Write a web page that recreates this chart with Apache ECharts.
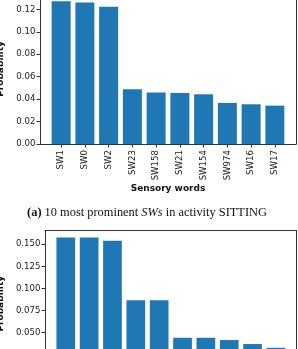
<!DOCTYPE html>
<html><head><meta charset="utf-8">
<script src="https://cdn.jsdelivr.net/npm/echarts@6/dist/echarts.min.js"></script>
<style>html,body{margin:0;padding:0;background:#fff}#c{width:298px;height:349px}</style>
</head><body><div id="c"></div>
<script>
// ---- data ----
const categoriesA = ['SW1','SW0','SW2','SW23','SW158','SW21','SW154','SW974','SW16','SW17'];
const valuesA = [0.1273,0.1260,0.1222,0.0488,0.0459,0.0455,0.0443,0.0366,0.0354,0.0342];
const yTicksA = [0,0.02,0.04,0.06,0.08,0.10,0.12];
const valuesB = [0.1575,0.1575,0.1537,0.0867,0.0867,0.0443,0.0443,0.0417,0.0372,0.0330];
const yTicksB = [0,0.025,0.05,0.075,0.1,0.125,0.15];
const xTitle = 'Sensory words';
const yTitle = 'Probability';
const captionA = ['(a)', ' 10 most prominent ', 'SWs', ' in activity SITTING'];

// ---- styles ----
const FONT = 'DejaVu Sans';
const SPINE = {color:'#333', width:1};
const BLUE = '#1f77b4';
const idx = categoriesA.map((_, i) => i);
const XMIN = -0.89, XMAX = 9.89;

function axesFor(g, cats, yTicks, yMax, digits, yGap, showXLabels){
  const x = [
    {type:'value', gridIndex:g, min:XMIN, max:XMAX, position:'bottom',
     splitLine:{show:false},
     axisLine:{show:true, onZero:false, lineStyle:SPINE},
     axisTick:{show:true, customValues:idx, length:3.5, lineStyle:{color:'#333', width:1}},
     axisLabel:{show:showXLabels, customValues:idx, rotate:90, margin:6, fontSize:8.6, fontFamily:FONT, color:'#222',
       formatter:v => cats[Math.round(v)] || ''},
     name:xTitle, nameLocation:'middle', nameGap:40,
     nameTextStyle:{fontFamily:FONT, fontWeight:'bold', fontSize:9, color:'#111'}},
    {type:'value', gridIndex:g, min:XMIN, max:XMAX, position:'top',
     splitLine:{show:false}, axisLine:{show:true, onZero:false, lineStyle:SPINE},
     axisTick:{show:false}, axisLabel:{show:false}}
  ];
  const y = [
    {type:'value', gridIndex:g, min:0, max:yMax, position:'left',
     splitLine:{show:false},
     axisLine:{show:true, onZero:false, lineStyle:SPINE},
     axisTick:{show:true, customValues:yTicks, length:3.5, lineStyle:{color:'#333', width:1}},
     axisLabel:{customValues:yTicks, margin:4.5, fontSize:8.6, fontFamily:FONT, color:'#222',
       formatter:v => v.toFixed(digits)},
     name:yTitle, nameLocation:'middle', nameRotate:90, nameGap:yGap,
     nameTextStyle:{fontFamily:FONT, fontWeight:'bold', fontSize:9, color:'#111'}},
    {type:'value', gridIndex:g, min:0, max:yMax, position:'right',
     splitLine:{show:false}, axisLine:{show:true, onZero:false, lineStyle:SPINE},
     axisTick:{show:false}, axisLabel:{show:false}}
  ];
  return {x, y};
}

const A = axesFor(0, categoriesA, yTicksA, Math.max(...valuesA)*1.05, 2, 30, true);
const B = axesFor(1, [], yTicksB, Math.max(...valuesB)*1.05, 3, 35, false);

const chart = echarts.init(document.getElementById('c'), null, {renderer:'canvas'});
chart.setOption({
  animation:false,
  backgroundColor:'#fff',
  grid:[
    {left:40, top:-6, width:256, height:150, containLabel:false, outerBoundsMode:'none'},
    {left:45, top:230.5, width:251.7, height:146.5, containLabel:false, outerBoundsMode:'none'}
  ],
  xAxis:[...A.x, ...B.x],
  yAxis:[...A.y, ...B.y],
  series:[
    {type:'bar', xAxisIndex:0, yAxisIndex:0, barWidth:19,
     data:valuesA.map((v,i)=>[i,v]), itemStyle:{color:BLUE}},
    {type:'bar', xAxisIndex:2, yAxisIndex:2, barWidth:18.7,
     data:valuesB.map((v,i)=>[i,v]), itemStyle:{color:BLUE}}
  ],
  graphic:[{
    type:'text', x:147, y:213,
    style:{
      text:'{b|' + captionA[0] + '}' + captionA[1] + '{i|' + captionA[2] + '}' + captionA[3],
      align:'center', verticalAlign:'middle',
      fontFamily:'Liberation Serif', fontSize:12.4, fill:'#111',
      rich:{
        b:{fontFamily:'Liberation Serif', fontSize:12.4, fontWeight:'bold', fill:'#111'},
        i:{fontFamily:'Liberation Serif', fontSize:12.4, fontStyle:'italic', fill:'#111'}
      }
    }
  }]
});
</script></body></html>
